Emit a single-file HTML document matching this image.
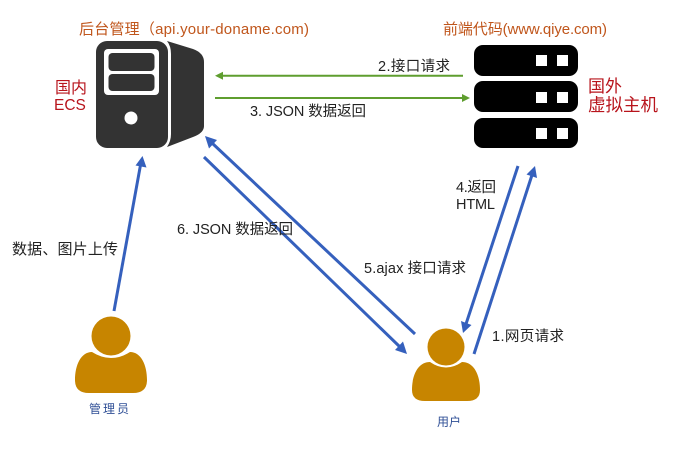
<!DOCTYPE html>
<html>
<head>
<meta charset="utf-8">
<style>
html,body{margin:0;padding:0;background:#fff;width:691px;height:455px;overflow:hidden}
svg{display:block}
text{font-family:"Liberation Sans","Noto Sans CJK SC",sans-serif}
</style>
</head>
<body>
<svg width="691" height="455" viewBox="0 0 691 455" xmlns="http://www.w3.org/2000/svg">
<rect width="691" height="455" fill="#fff"/>

<!-- Left server -->
<path d="M167 41 L193 49 Q204 53 204 62 V126 Q204 133 193 137 L167 147 Q171 141 171 134 V54 Q171 46 167 41Z" fill="#333"/>
<rect x="96" y="41" width="72" height="107" rx="11" fill="#333"/>
<rect x="104" y="49" width="55" height="46" rx="4" fill="#fff"/>
<rect x="108.500" y="53" width="46" height="18" rx="4" fill="#333"/>
<rect x="108.500" y="74" width="46" height="17" rx="4" fill="#333"/>
<circle cx="131" cy="118" r="6.500" fill="#fff"/>

<!-- Right server -->
<rect x="474" y="45" width="104" height="31" rx="9" fill="#000"/>
<rect x="474" y="81" width="104" height="31" rx="9" fill="#000"/>
<rect x="474" y="118" width="104" height="30" rx="9" fill="#000"/>
<g fill="#fff">
<rect x="536" y="55" width="11" height="11"/><rect x="557" y="55" width="11" height="11"/>
<rect x="536" y="92" width="11" height="11"/><rect x="557" y="92" width="11" height="11"/>
<rect x="536" y="128" width="11" height="11"/><rect x="557" y="128" width="11" height="11"/>
</g>

<!-- Persons -->
<g fill="#c78500">
<circle cx="111" cy="336" r="19.500"/>
<path d="M92 352 Q111 364 130 352 C141 352 147 365 147 380 Q147 393 133 393 H89 Q75 393 75 380 C75 365 81 352 92 352Z"/>
<circle cx="446" cy="347" r="18.500"/>
<path d="M430 362 Q446 373 462 362 C474 362 480 375 480 390 Q480 401 467 401 H425 Q412 401 412 390 C412 375 418 362 430 362Z"/>
</g>

<!-- Green arrows -->
<g stroke="#5f9e2f" stroke-width="2" fill="#5f9e2f">
<line x1="463" y1="75.700" x2="222" y2="75.700"/>
<line x1="215" y1="98" x2="463" y2="98"/>
</g>
<path d="M215 75.700 L223 71.700 V79.700Z" fill="#5f9e2f"/>
<path d="M470 98 L462 94 V102Z" fill="#5f9e2f"/>

<!-- Blue arrows -->
<g stroke="#3560bd" stroke-width="3" fill="none">
<line x1="114" y1="311" x2="140.500" y2="165"/>
<line x1="415" y1="334" x2="212" y2="143"/>
<line x1="204" y1="157" x2="400" y2="347"/>
<line x1="518" y1="166" x2="466" y2="324"/>
<line x1="474" y1="354" x2="532" y2="175"/>
</g>
<g fill="#3560bd">
<path d="M142.500 156 L146.500 167.500 L135.500 165.500Z"/>
<path d="M205 136 L217 140 L209 148.500Z"/>
<path d="M407 354 L395 350 L403 341.500Z"/>
<path d="M463 333 L461 321 L471.500 325Z"/>
<path d="M535 166 L537 178 L526.500 174.500Z"/>
</g>

<!-- Labels -->
<g font-size="15" fill="#c0561c">
<text x="79" y="34" textLength="230" lengthAdjust="spacing">后台管理（api.your-doname.com)</text>
<text x="443" y="34" textLength="164" lengthAdjust="spacing">前端代码(www.qiye.com)</text>
</g>
<g fill="#b8141c">
<text x="55" y="93" font-size="16">国内</text>
<text x="54" y="110" font-size="15.500">ECS</text>
<text x="588" y="92" font-size="17">国外</text>
<text x="588" y="111" font-size="17.500">虚拟主机</text>
</g>
<g font-size="14.500" fill="#222">
<text x="378" y="71" textLength="72">2.接口请求</text>
<text x="250" y="116" textLength="116">3. JSON 数据返回</text>
<text x="12" y="254" font-size="15" textLength="106">数据、图片上传</text>
<text x="177" y="234" textLength="116">6. JSON 数据返回</text>
<text x="364" y="273" textLength="102">5.ajax 接口请求</text>
<text x="456" y="192" textLength="40">4.返回</text>
<text x="456" y="209" textLength="39">HTML</text>
<text x="492" y="341" textLength="72">1.网页请求</text>
</g>
<g font-size="12" fill="#2f4f96">
<text x="89" y="413" textLength="40">管理员</text>
<text x="437" y="426">用户</text>
</g>
</svg>
</body>
</html>
